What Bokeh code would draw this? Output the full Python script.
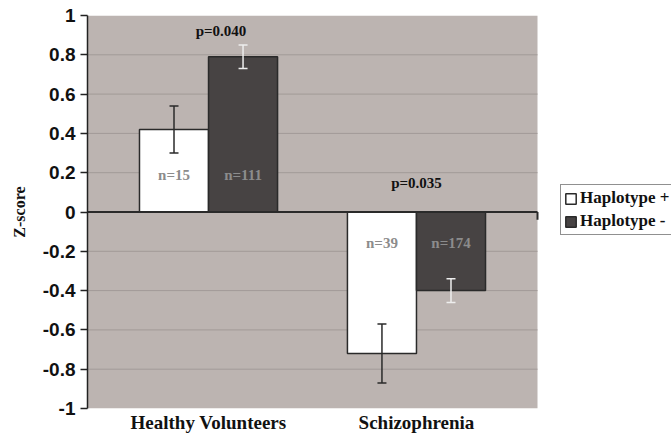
from bokeh.plotting import figure
from bokeh.models import (ColumnDataSource, Range1d, FixedTicker, Whisker, TeeHead,
                          BoxAnnotation, Legend, LegendItem, LabelSet)
from bokeh.embed import file_html
from bokeh.resources import INLINE

# ---- data ----
categories = ["Healthy Volunteers", "Schizophrenia"]
hap_pos = [0.42, -0.72]
hap_pos_err = [0.12, 0.15]
hap_neg = [0.79, -0.40]
hap_neg_err = [0.06, 0.06]
n_pos = ["n=15", "n=39"]
n_neg = ["n=111", "n=174"]
p_labels = ["p=0.040", "p=0.035"]
y_ticks = [-1, -0.8, -0.6, -0.4, -0.2, 0, 0.2, 0.4, 0.6, 0.8, 1]
y_tick_labels = ["-1", "-0.8", "-0.6", "-0.4", "-0.2", "0", "0.2", "0.4", "0.6", "0.8", "1"]
series_names = ["Haplotype +", "Haplotype -"]

# ---- layout helpers ----
xc = [i + 1 for i in range(len(categories))]
off = 0.166
bw = 0.332
pad = 0.582
x_lo, x_hi = xc[0] - pad, xc[-1] + pad
x_pos = [x - off for x in xc]
x_neg = [x + off for x in xc]

BG = "#BCB4B1"
DARK = "#474343"
LINE = "#2a2a2a"
SERIF = "Liberation Serif"
SANS = "Liberation Sans"

src_pos = ColumnDataSource(dict(
    x=x_pos, top=hap_pos,
    upper=[v + e for v, e in zip(hap_pos, hap_pos_err)],
    lower=[v - e for v, e in zip(hap_pos, hap_pos_err)],
    lab=n_pos,
    ly=[0.19 if v > 0 else -0.16 for v in hap_pos],
))
src_neg = ColumnDataSource(dict(
    x=x_neg, top=hap_neg,
    upper=[v + e for v, e in zip(hap_neg, hap_neg_err)],
    lower=[v - e for v, e in zip(hap_neg, hap_neg_err)],
    lab=n_neg,
    ly=[0.19 if v > 0 else -0.16 for v in hap_pos],
))
src_p = ColumnDataSource(dict(
    x=[xc[0] + 0.06, xc[1]],
    y=[max(hap_pos[0] + hap_pos_err[0], hap_neg[0] + hap_neg_err[0]) + 0.07, 0.15],
    lab=p_labels,
))
grid_y = [t for t in y_ticks if t != 0 and abs(t) != 1]
src_grid = ColumnDataSource(dict(x0=[x_lo] * len(grid_y), x1=[x_hi] * len(grid_y), y=grid_y))

FW = 671 - 87
p = figure(width=671, height=435, output_backend="svg", toolbar_location=None,
           x_range=Range1d(x_lo, x_lo + (x_hi - x_lo) * FW / 450.0), y_range=Range1d(-1, 1),
           min_border_left=87, min_border_right=0, min_border_top=15, min_border_bottom=26)
p.border_fill_color = "white"
p.background_fill_color = "white"
p.outline_line_color = None

p.add_layout(BoxAnnotation(left=x_lo, right=x_hi, fill_color=BG, fill_alpha=1.0,
                           line_color=None, level="underlay"))
p.segment(x0="x0", x1="x1", y0="y", y1="y", source=src_grid, line_color="#A29A98", line_width=1)

r_pos = p.vbar(x="x", top="top", bottom=0, width=bw, source=src_pos,
               fill_color="white", line_color=LINE, line_width=1.5)
r_neg = p.vbar(x="x", top="top", bottom=0, width=bw, source=src_neg,
               fill_color=DARK, line_color=LINE, line_width=1.5)

# category axis line at zero with end tick
p.segment(x0=[x_lo], x1=[x_hi], y0=[0], y1=[0], line_color=LINE, line_width=2)
p.segment(x0=[x_hi], x1=[x_hi], y0=[0], y1=[-0.04], line_color=LINE, line_width=2)

p.add_layout(Whisker(base="x", upper="upper", lower="lower", source=src_pos, level="annotation",
                     line_color=LINE, line_width=1.5,
                     upper_head=TeeHead(size=9, line_color=LINE, line_width=1.5),
                     lower_head=TeeHead(size=9, line_color=LINE, line_width=1.5)))
p.add_layout(Whisker(base="x", upper="upper", lower="lower", source=src_neg, level="annotation",
                     line_color="#eeeeee", line_width=1.5,
                     upper_head=TeeHead(size=9, line_color="#eeeeee", line_width=1.5),
                     lower_head=TeeHead(size=9, line_color="#eeeeee", line_width=1.5)))

for s in (src_pos, src_neg):
    p.add_layout(LabelSet(x="x", y="ly", text="lab", source=s, text_align="center",
                          text_baseline="middle", text_font=SERIF, text_font_style="bold",
                          text_font_size="15px", text_color="#8c8c8c"))
p.add_layout(LabelSet(x="x", y="y", text="lab", source=src_p, text_align="center",
                      text_baseline="middle", text_font=SERIF, text_font_style="bold",
                      text_font_size="15px", text_color="#111111"))

# axes
p.xgrid.grid_line_color = None
p.ygrid.grid_line_color = None
p.yaxis.ticker = FixedTicker(ticks=y_ticks)
p.yaxis.major_label_overrides = {t: l for t, l in zip(y_ticks, y_tick_labels)}
p.yaxis.major_label_text_font = SANS
p.yaxis.major_label_text_font_style = "bold"
p.yaxis.major_label_text_font_size = "19px"
p.yaxis.major_label_text_color = "#111111"
p.yaxis.major_tick_out = 7
p.yaxis.major_tick_in = 0
p.yaxis.minor_tick_line_color = None
p.yaxis.axis_line_color = "#222222"
p.yaxis.axis_line_width = 1.5
p.yaxis.major_tick_line_color = "#222222"
p.yaxis.major_tick_line_width = 1.5
p.yaxis.major_label_standoff = 5
p.yaxis.axis_label = "Z-score"
p.yaxis.axis_label_text_font = SERIF
p.yaxis.axis_label_text_font_style = "bold"
p.yaxis.axis_label_text_font_size = "16px"
p.yaxis.axis_label_text_color = "#111111"
p.yaxis.axis_label_standoff = 12

p.xaxis.ticker = FixedTicker(ticks=xc)
p.xaxis.major_label_overrides = {x: c for x, c in zip(xc, categories)}
p.xaxis.axis_line_color = None
p.xaxis.major_tick_line_color = None
p.xaxis.minor_tick_line_color = None
p.xaxis.major_tick_out = 0
p.xaxis.major_tick_in = 0
p.xaxis.minor_tick_out = 0
p.xaxis.minor_tick_in = 0
p.xaxis.major_label_text_font = SERIF
p.xaxis.major_label_text_font_style = "bold"
p.xaxis.major_label_text_font_size = "19px"
p.xaxis.major_label_text_color = "#111111"
p.xaxis.major_label_standoff = 3

legend = Legend(items=[LegendItem(label=series_names[0], renderers=[r_pos]),
                       LegendItem(label=series_names[1], renderers=[r_neg])],
                location=(473, 173))
legend.label_text_font = SERIF
legend.label_text_font_style = "bold"
legend.label_text_font_size = "17px"
legend.label_text_color = "#111111"
legend.glyph_width = 13
legend.glyph_height = 13
legend.label_standoff = 3
legend.spacing = 3
legend.padding = 3
legend.margin = 0
legend.border_line_color = "#222222"
legend.border_line_width = 1
legend.label_height = 13
legend.background_fill_color = "white"
p.add_layout(legend)

open("out.html", "w").write(file_html(p, INLINE))
